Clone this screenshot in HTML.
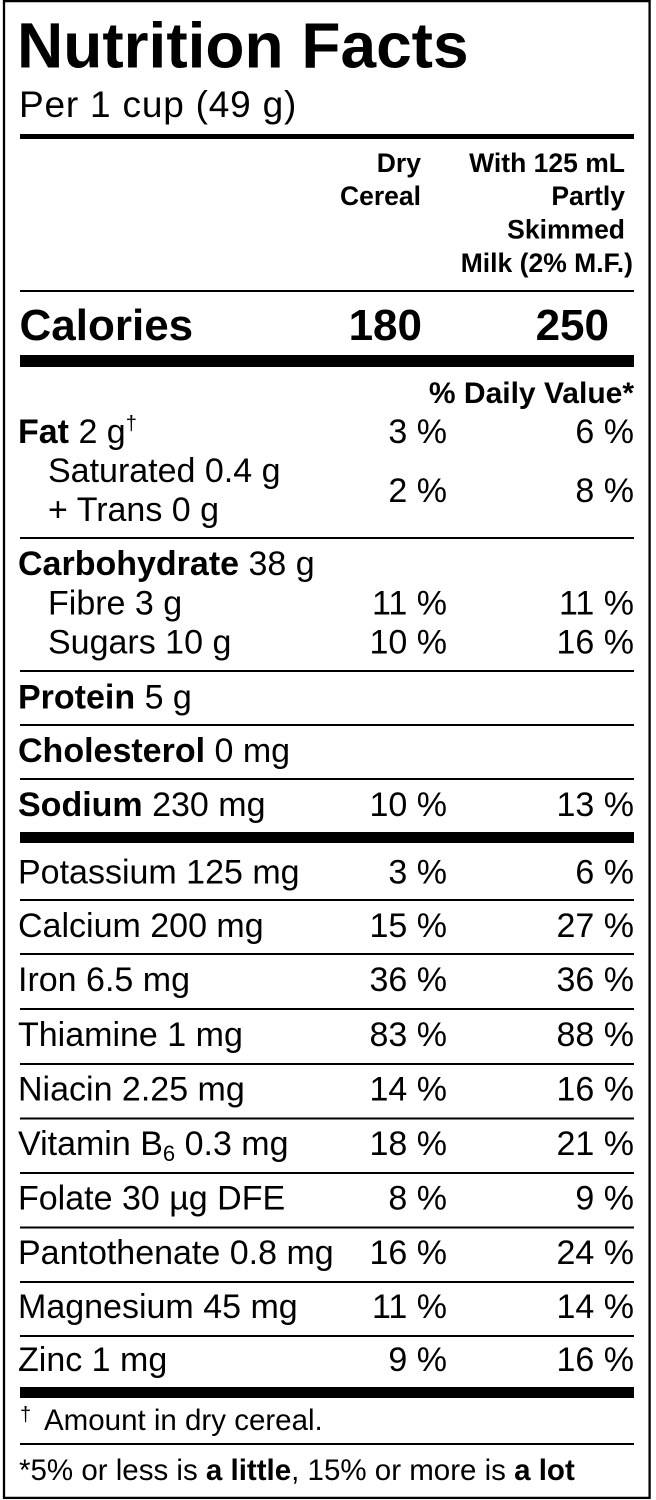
<!DOCTYPE html>
<html><head><meta charset="utf-8">
<style>
html,body{margin:0;padding:0;background:#fff;}
svg{display:block;}
text{font-family:"Liberation Sans",Arial,sans-serif;fill:#000;}
.b{font-weight:bold;}
.r{font-size:34px;}
.h{font-size:26.5px;font-weight:bold;}
</style></head>
<body>
<svg width="656" height="1500" viewBox="0 0 656 1500" xmlns="http://www.w3.org/2000/svg">
<rect x="0" y="0" width="656" height="1500" fill="#fff"/>
<rect x="4" y="1.1" width="645.6" height="1496.8" fill="none" stroke="#000" stroke-width="2.3"/>

<!-- Title -->
<text x="17" y="67.5" class="b" font-size="64">Nutrition Facts</text>
<text x="19" y="117" font-size="37" letter-spacing="0.8">Per 1 cup (49 g)</text>
<rect x="20" y="134" width="614" height="5" fill="#000"/>

<!-- Header columns -->
<text x="421" y="172" class="h" text-anchor="end">Dry</text>
<text x="421" y="205" class="h" text-anchor="end">Cereal</text>
<text x="625" y="172" class="h" text-anchor="end">With 125 mL</text>
<text x="625" y="205" class="h" text-anchor="end">Partly</text>
<text x="625" y="238.5" class="h" text-anchor="end">Skimmed</text>
<text x="633" y="272" class="h" text-anchor="end">Milk (2% M.F.)</text>
<rect x="20" y="290" width="614" height="2" fill="#000"/>

<!-- Calories -->
<text x="19.5" y="340" class="b" font-size="44">Calories</text>
<text x="422" y="340" class="b" font-size="44" text-anchor="end">180</text>
<text x="609" y="340" class="b" font-size="44" text-anchor="end">250</text>
<rect x="20" y="355" width="614" height="12" fill="#000"/>

<text x="634" y="403" class="b" font-size="30" text-anchor="end">% Daily Value*</text>

<!-- Fat -->
<text x="18" y="443" class="r"><tspan font-weight="bold">Fat</tspan> 2 g<tspan font-size="20" dy="-13">†</tspan></text>
<text x="447" y="443" class="r" text-anchor="end">3 %</text>
<text x="634" y="443" class="r" text-anchor="end">6 %</text>
<text x="48" y="482" class="r">Saturated 0.4 g</text>
<text x="48" y="521" class="r">+ Trans 0 g</text>
<text x="447" y="502" class="r" text-anchor="end">2 %</text>
<text x="634" y="502" class="r" text-anchor="end">8 %</text>
<rect x="20" y="537" width="614" height="2" fill="#000"/>

<!-- Carbohydrate -->
<text x="18" y="575" class="r"><tspan font-weight="bold">Carbohydrate</tspan> 38 g</text>
<text x="48" y="614.5" class="r">Fibre 3 g</text>
<text x="447" y="614.5" class="r" text-anchor="end">11 %</text>
<text x="634" y="614.5" class="r" text-anchor="end">11 %</text>
<text x="48" y="653.5" class="r">Sugars 10 g</text>
<text x="447" y="653.5" class="r" text-anchor="end">10 %</text>
<text x="634" y="653.5" class="r" text-anchor="end">16 %</text>
<rect x="20" y="670" width="614" height="2" fill="#000"/>

<text x="18" y="708.5" class="r"><tspan font-weight="bold">Protein</tspan> 5 g</text>
<rect x="20" y="724" width="614" height="2" fill="#000"/>

<text x="18" y="762" class="r"><tspan font-weight="bold">Cholesterol</tspan> 0 mg</text>
<rect x="20" y="778" width="614" height="2" fill="#000"/>

<text x="18" y="816" class="r"><tspan font-weight="bold">Sodium</tspan> 230 mg</text>
<text x="447" y="816" class="r" text-anchor="end">10 %</text>
<text x="634" y="816" class="r" text-anchor="end">13 %</text>
<rect x="20" y="832" width="614" height="11" fill="#000"/>

<!-- Vitamins & minerals -->
<text x="18" y="883.5" class="r">Potassium 125 mg</text>
<text x="447" y="883.5" class="r" text-anchor="end">3 %</text>
<text x="634" y="883.5" class="r" text-anchor="end">6 %</text>
<rect x="20" y="899" width="614" height="2" fill="#000"/>

<text x="18" y="937" class="r">Calcium 200 mg</text>
<text x="447" y="937" class="r" text-anchor="end">15 %</text>
<text x="634" y="937" class="r" text-anchor="end">27 %</text>
<rect x="20" y="953" width="614" height="2" fill="#000"/>

<text x="18" y="991" class="r">Iron 6.5 mg</text>
<text x="447" y="991" class="r" text-anchor="end">36 %</text>
<text x="634" y="991" class="r" text-anchor="end">36 %</text>
<rect x="20" y="1008" width="614" height="2" fill="#000"/>

<text x="18" y="1046" class="r">Thiamine 1 mg</text>
<text x="447" y="1046" class="r" text-anchor="end">83 %</text>
<text x="634" y="1046" class="r" text-anchor="end">88 %</text>
<rect x="20" y="1063" width="614" height="2" fill="#000"/>

<text x="18" y="1100.5" class="r">Niacin 2.25 mg</text>
<text x="447" y="1100.5" class="r" text-anchor="end">14 %</text>
<text x="634" y="1100.5" class="r" text-anchor="end">16 %</text>
<rect x="20" y="1117.5" width="614" height="2" fill="#000"/>

<text x="18" y="1155" class="r">Vitamin B<tspan font-size="22" dy="6">6</tspan><tspan dy="-6"> 0.3 mg</tspan></text>
<text x="447" y="1155" class="r" text-anchor="end">18 %</text>
<text x="634" y="1155" class="r" text-anchor="end">21 %</text>
<rect x="20" y="1172" width="614" height="2" fill="#000"/>

<text x="18" y="1209.5" class="r">Folate 30 µg DFE</text>
<text x="447" y="1209.5" class="r" text-anchor="end">8 %</text>
<text x="634" y="1209.5" class="r" text-anchor="end">9 %</text>
<rect x="20" y="1226.5" width="614" height="2" fill="#000"/>

<text x="18" y="1264" class="r">Pantothenate 0.8 mg</text>
<text x="447" y="1264" class="r" text-anchor="end">16 %</text>
<text x="634" y="1264" class="r" text-anchor="end">24 %</text>
<rect x="20" y="1281" width="614" height="2" fill="#000"/>

<text x="18" y="1318" class="r">Magnesium 45 mg</text>
<text x="447" y="1318" class="r" text-anchor="end">11 %</text>
<text x="634" y="1318" class="r" text-anchor="end">14 %</text>
<rect x="20" y="1335" width="614" height="2" fill="#000"/>

<text x="18" y="1371" class="r">Zinc 1 mg</text>
<text x="447" y="1371" class="r" text-anchor="end">9 %</text>
<text x="634" y="1371" class="r" text-anchor="end">16 %</text>
<rect x="20" y="1387" width="614" height="11" fill="#000"/>

<!-- Footer -->
<text x="20" y="1421" font-size="20">†</text>
<text x="44" y="1430" font-size="29.5">Amount in dry cereal.</text>
<rect x="20" y="1443" width="614" height="2" fill="#000"/>
<text x="19" y="1480" font-size="29.5">*5% or less is <tspan font-weight="bold">a little</tspan>, 15% or more is <tspan font-weight="bold">a lot</tspan></text>
</svg>
</body></html>
